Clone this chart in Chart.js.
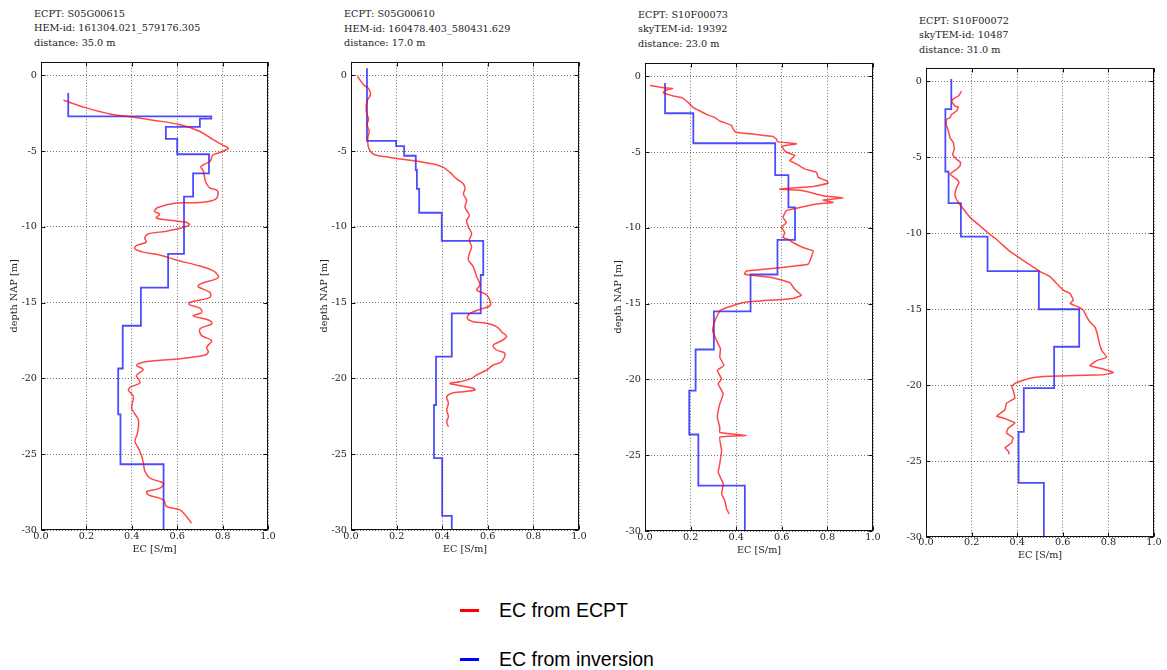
<!DOCTYPE html>
<html>
<head>
<meta charset="utf-8">
<script src="https://cdn.jsdelivr.net/npm/chart.js@4/dist/chart.umd.min.js"></script>
<style>
  html, body { margin:0; padding:0; background:#fff; }
  body { width:1167px; height:670px; position:relative; overflow:hidden; }
  .ttl { position:absolute; font-family:"DejaVu Serif"; font-size:9.7px; line-height:14.8px; color:#222; white-space:pre; }
  canvas { position:absolute; }
  .legline { position:absolute; width:19px; height:3px; }
  .legtxt { position:absolute; font-family:"Liberation Sans", Arial, sans-serif; font-size:19.5px; line-height:24px; color:#000; white-space:pre; }
</style>
</head>
<body>
<script>
// ---------------- data ----------------
const xTicks = [0, 0.2, 0.4, 0.6, 0.8, 1.0];
const yTicks = [0, -5, -10, -15, -20, -25, -30];
const legendLabels = ['EC from ECPT', 'EC from inversion'];

const titles1 = ['ECPT: S05G00615', 'HEM-id: 161304.021_579176.305', 'distance: 35.0 m'];
const titles2 = ['ECPT: S05G00610', 'HEM-id: 160478.403_580431.629', 'distance: 17.0 m'];
const titles3 = ['ECPT: S10F00073', 'skyTEM-id: 19392', 'distance: 23.0 m'];
const titles4 = ['ECPT: S10F00072', 'skyTEM-id: 10487', 'distance: 31.0 m'];

// ECPT profiles (depth NAP [m], EC [S/m])
const ecptDepth1 = [-1.64,-2.14,-2.54,-2.74,-2.95,-3.24,-3.68,-4.22,-4.6,-4.81,-5.1,-5.27,-5.65,-5.86,-6.04,-6.3,-6.96,-7.4,-7.62,-8.16,-8.38,-8.42,-8.71,-8.97,-9.15,-9.41,-9.58,-9.69,-9.85,-10.07,-10.28,-10.46,-10.72,-11.0,-11.23,-11.44,-11.66,-11.88,-12.2,-12.5,-12.9,-13.33,-13.77,-13.95,-14.32,-14.65,-14.98,-15.13,-15.35,-15.64,-15.86,-16.18,-16.4,-16.73,-17.17,-17.5,-17.94,-18.27,-18.49,-18.71,-18.93,-19.14,-19.4,-19.8,-20.05,-20.3,-20.58,-20.76,-21.2,-21.97,-22.74,-23.6,-24.16,-24.6,-25.15,-25.59,-26.14,-26.58,-26.91,-27.24,-27.46,-27.68,-28.01,-28.45,-28.67,-29.11,-29.55];
const ecptEc1    = [0.099,0.2,0.304,0.4,0.493,0.61,0.698,0.756,0.8,0.825,0.785,0.756,0.746,0.72,0.704,0.715,0.724,0.742,0.778,0.77,0.698,0.596,0.515,0.5,0.523,0.508,0.581,0.639,0.654,0.617,0.552,0.472,0.457,0.464,0.42,0.413,0.45,0.53,0.6,0.68,0.759,0.781,0.70,0.693,0.744,0.744,0.656,0.653,0.70,0.708,0.671,0.744,0.752,0.70,0.708,0.752,0.73,0.737,0.715,0.598,0.451,0.421,0.45,0.42,0.43,0.436,0.392,0.385,0.407,0.40,0.429,0.425,0.414,0.429,0.444,0.451,0.458,0.48,0.539,0.524,0.466,0.473,0.539,0.553,0.612,0.641,0.663];

const ecptDepth2 = [-0.07,-0.61,-0.87,-1.27,-1.7,-2.36,-2.9,-3.23,-3.67,-4.1,-4.76,-5.2,-5.41,-5.59,-5.85,-6.07,-6.4,-6.83,-7.16,-7.49,-7.82,-8.25,-8.69,-9.24,-9.56,-10.0,-10.44,-10.87,-11.31,-11.75,-12.18,-12.62,-13.28,-13.82,-14.16,-14.49,-15.15,-15.37,-15.7,-16.03,-16.25,-16.36,-16.58,-16.91,-17.24,-17.57,-17.79,-18.12,-18.34,-18.89,-19.11,-19.44,-19.77,-19.99,-20.21,-20.32,-20.43,-20.65,-20.76,-20.87,-20.98,-21.2,-21.64,-22.08,-22.52,-22.85,-23.18];
const ecptEc2    = [0.029,0.055,0.077,0.085,0.07,0.067,0.077,0.07,0.08,0.074,0.077,0.099,0.172,0.259,0.362,0.405,0.434,0.464,0.493,0.5,0.493,0.507,0.5,0.519,0.507,0.515,0.529,0.519,0.529,0.519,0.515,0.536,0.551,0.566,0.551,0.595,0.612,0.58,0.522,0.51,0.536,0.595,0.638,0.66,0.682,0.653,0.624,0.638,0.675,0.66,0.624,0.595,0.551,0.529,0.478,0.434,0.464,0.536,0.544,0.493,0.442,0.42,0.427,0.42,0.427,0.42,0.427];

const ecptDepth3 = [-0.59,-0.75,-0.79,-0.92,-1.07,-1.29,-1.4,-1.73,-2.06,-2.28,-2.5,-2.72,-2.94,-3.23,-3.49,-3.68,-3.83,-3.96,-4.14,-4.3,-4.45,-4.6,-4.85,-5.0,-5.22,-5.55,-5.77,-6.1,-6.32,-6.66,-6.88,-7.05,-7.27,-7.43,-7.54,-7.87,-8.02,-8.16,-8.31,-8.42,-8.75,-8.86,-9.3,-9.64,-9.97,-10.3,-10.63,-10.74,-10.96,-11.29,-11.51,-11.95,-12.4,-12.62,-12.84,-13.06,-13.28,-13.61,-14.05,-14.45,-14.65,-14.89,-15.1,-15.44,-16.1,-16.76,-17.42,-17.97,-18.52,-19.07,-19.41,-19.96,-20.29,-20.95,-21.61,-22.49,-23.15,-23.5,-23.7,-23.81,-24.69,-25.57,-26.12,-26.89,-27.56,-28.0,-28.55,-28.88];
const ecptEc3    = [0.022,0.08,0.121,0.088,0.08,0.124,0.161,0.19,0.212,0.241,0.27,0.307,0.328,0.379,0.387,0.4,0.488,0.561,0.577,0.58,0.664,0.60,0.61,0.62,0.657,0.635,0.664,0.70,0.752,0.76,0.796,0.803,0.737,0.591,0.693,0.781,0.869,0.781,0.825,0.752,0.649,0.62,0.605,0.62,0.598,0.613,0.605,0.627,0.649,0.693,0.737,0.729,0.715,0.591,0.444,0.437,0.561,0.635,0.657,0.686,0.649,0.445,0.39,0.33,0.307,0.296,0.314,0.331,0.328,0.346,0.317,0.336,0.321,0.343,0.328,0.317,0.328,0.328,0.445,0.328,0.336,0.328,0.321,0.343,0.336,0.35,0.358,0.369];

const ecptDepth4 = [-0.63,-0.96,-1.14,-1.29,-1.62,-1.68,-1.95,-2.17,-2.39,-2.49,-2.82,-3.26,-3.7,-4.03,-4.46,-4.79,-5.12,-5.34,-5.56,-5.78,-6.11,-6.43,-6.65,-6.98,-7.42,-7.64,-7.97,-8.4,-8.95,-9.5,-9.98,-10.31,-10.81,-11.19,-11.64,-12.08,-12.52,-12.85,-13.3,-13.74,-13.96,-14.4,-14.62,-14.85,-15.07,-15.51,-15.84,-16.17,-16.5,-16.95,-17.39,-17.72,-18.16,-18.38,-18.72,-18.94,-19.16,-19.31,-19.42,-19.54,-19.82,-20.04,-20.38,-20.85,-21.18,-21.62,-22.05,-22.16,-22.49,-22.82,-23.14,-23.47,-23.8,-24.13,-24.34,-24.56];
const ecptEc4    = [0.156,0.142,0.12,0.112,0.127,0.142,0.134,0.112,0.105,0.09,0.088,0.098,0.105,0.12,0.124,0.117,0.134,0.152,0.149,0.134,0.105,0.134,0.145,0.134,0.127,0.13,0.142,0.164,0.193,0.236,0.273,0.302,0.339,0.368,0.412,0.456,0.5,0.544,0.573,0.602,0.632,0.646,0.632,0.668,0.69,0.705,0.719,0.741,0.749,0.756,0.763,0.771,0.793,0.749,0.719,0.778,0.822,0.778,0.544,0.456,0.398,0.376,0.383,0.39,0.353,0.346,0.31,0.339,0.39,0.361,0.353,0.382,0.375,0.346,0.361,0.365];

// Inversion models: layer boundaries (depth NAP [m]) and layer EC [S/m]
const invBounds1 = [-1.15,-2.7,-2.85,-3.4,-4.18,-5.2,-6.46,-8.0,-11.77,-14.0,-16.52,-19.34,-22.37,-25.66,-30];
const invEc1     = [0.12,0.75,0.70,0.55,0.60,0.74,0.67,0.63,0.56,0.44,0.36,0.34,0.35,0.54];
const invBounds2 = [0.48,-4.32,-4.67,-5.3,-6.24,-7.49,-9.06,-10.92,-13.17,-15.7,-18.56,-21.75,-25.26,-29.07,-30];
const invEc2     = [0.07,0.198,0.233,0.284,0.289,0.299,0.398,0.58,0.569,0.442,0.373,0.364,0.40,0.442];
const invBounds3 = [-0.44,-2.43,-4.41,-6.51,-8.64,-10.79,-13.07,-15.5,-18.02,-20.73,-23.63,-27.0,-30];
const invEc3     = [0.088,0.212,0.571,0.629,0.658,0.581,0.463,0.302,0.222,0.194,0.234,0.438];
const invBounds4 = [0.17,-1.82,-5.93,-8.01,-10.22,-12.49,-15.0,-17.47,-20.2,-23.08,-26.44,-30];
const invEc4     = [0.111,0.085,0.099,0.153,0.27,0.495,0.672,0.562,0.429,0.406,0.517];

// ---------------- layout ----------------
const panels = [
  {titles: titles1, dep: ecptDepth1, ec: ecptEc1, bounds: invBounds1, inv: invEc1, left:41,  top:60, w:227, h:470, titleTop:6.5,  yTitle:true,  tickPad:1, xTitlePad:1.2, tension:0.35},
  {titles: titles2, dep: ecptDepth2, ec: ecptEc2, bounds: invBounds2, inv: invEc2, left:351, top:60, w:228, h:470, titleTop:6.8,  yTitle:true,  tickPad:1, xTitlePad:1.2, tension:0.35},
  {titles: titles3, dep: ecptDepth3, ec: ecptEc3, bounds: invBounds3, inv: invEc3, left:645, top:61, w:228, h:470, titleTop:7.5,  yTitle:true,  tickPad:1, xTitlePad:1.2, tension:0.1},
  {titles: titles4, dep: ecptDepth4, ec: ecptEc4, bounds: invBounds4, inv: invEc4, left:926, top:66, w:228, h:471, titleTop:13.5, yTitle:false, tickPad:0, xTitlePad:2.2, tension:0.1}
];

const Y_MAX = 0.9, Y_MIN = -30;
const AXIS_W = 40, AXIS_H = 26, PAD_T = 8, PAD_R = 10;
const serif = {family: 'DejaVu Serif', size: 9.7};

const frame = {
  id: 'frame',
  afterDraw(chart) {
    const {ctx, chartArea: a, scales: {x, y}} = chart;
    ctx.save();
    ctx.setLineDash([]);
    ctx.strokeStyle = '#111';
    ctx.lineWidth = 1;
    const L = Math.round(a.left) + 0.5, R = Math.round(a.right) - 0.5;
    const T = Math.round(a.top) + 0.5, B = Math.round(a.bottom) - 0.5;
    ctx.strokeRect(L, T, R - L, B - T);
    ctx.beginPath();
    y.ticks.forEach(t => {
      const py = Math.round(y.getPixelForValue(t.value)) + 0.5;
      ctx.moveTo(L, py); ctx.lineTo(L + 4, py);
      ctx.moveTo(R - 4, py); ctx.lineTo(R, py);
    });
    x.ticks.forEach(t => {
      const px = Math.round(x.getPixelForValue(t.value)) + 0.5;
      ctx.moveTo(px, B); ctx.lineTo(px, B - 4);
      ctx.moveTo(px, T); ctx.lineTo(px, T + 4);
    });
    ctx.stroke();
    ctx.restore();
  }
};

function stepPoints(bounds, ecs) {
  const pts = [];
  ecs.forEach((v, i) => { pts.push({x: v, y: bounds[i]}); pts.push({x: v, y: bounds[i + 1]}); });
  return pts;
}

panels.forEach(p => {
  const t = document.createElement('div');
  t.className = 'ttl';
  t.style.left = (p.left - 7) + 'px';
  t.style.top = p.titleTop + 'px';
  t.textContent = p.titles.join('\n');
  document.body.appendChild(t);

  const c = document.createElement('canvas');
  const cw = AXIS_W + p.w + PAD_R, ch = PAD_T + p.h + AXIS_H;
  c.width = cw; c.height = ch;
  c.style.width = cw + 'px'; c.style.height = ch + 'px';
  c.style.left = (p.left - AXIS_W) + 'px';
  c.style.top = (p.top - PAD_T) + 'px';
  document.body.appendChild(c);

  const ecpt = p.dep.map((d, i) => ({x: p.ec[i], y: d}));
  new Chart(c, {
    type: 'scatter',
    data: {
      datasets: [
        {label: legendLabels[0], data: ecpt, showLine: true, borderColor: 'rgba(255,0,0,0.72)', borderWidth: 1.5, pointRadius: 0, tension: p.tension, fill: false},
        {label: legendLabels[1], data: stepPoints(p.bounds, p.inv), showLine: true, borderColor: 'rgba(0,0,255,0.7)', borderWidth: 1.8, pointRadius: 0, tension: 0, fill: false}
      ]
    },
    options: {
      responsive: false, animation: false, devicePixelRatio: 1,
      layout: {padding: {top: PAD_T, right: PAD_R, left: 0, bottom: 0}},
      plugins: {legend: {display: false}, tooltip: {enabled: false}},
      scales: {
        x: {
          type: 'linear', min: 0, max: 1,
          afterBuildTicks: s => { s.ticks = xTicks.map(v => ({value: v})); },
          afterFit: s => { s.height = AXIS_H; },
          ticks: {padding: p.tickPad, color: '#222', font: serif, maxRotation: 0, autoSkip: false, callback: v => Number(v).toFixed(1)},
          grid: {color: 'rgba(0,0,0,0.55)', lineWidth: 1, drawTicks: false},
          border: {display: false, dash: [1, 2]},
          title: {display: true, text: 'EC [S/m]', color: '#222', font: serif, padding: {top: 0, bottom: p.xTitlePad}}
        },
        y: {
          type: 'linear', min: Y_MIN, max: Y_MAX,
          afterBuildTicks: s => { s.ticks = yTicks.map(v => ({value: v})); },
          afterFit: s => { s.width = AXIS_W; },
          ticks: {padding: 4, color: '#222', font: serif, autoSkip: false, callback: v => String(v)},
          grid: {color: 'rgba(0,0,0,0.55)', lineWidth: 1, drawTicks: false},
          border: {display: false, dash: [1, 2]},
          title: {display: p.yTitle, text: 'depth NAP [m]', color: '#222', font: serif, padding: {top: 7.2, bottom: 0}}
        }
      }
    },
    plugins: [frame]
  });
});

// legend
const legColors = ['#ff0000', '#0000ff'];
const legY = [610, 659];
legendLabels.forEach((lab, i) => {
  const l = document.createElement('div');
  l.className = 'legline';
  l.style.left = '460px'; l.style.top = (legY[i] - 1.5) + 'px'; l.style.background = legColors[i];
  document.body.appendChild(l);
  const tx = document.createElement('div');
  tx.className = 'legtxt';
  tx.style.left = '499px'; tx.style.top = (legY[i] - 12) + 'px';
  tx.textContent = lab;
  document.body.appendChild(tx);
});
</script>
</body>
</html>
